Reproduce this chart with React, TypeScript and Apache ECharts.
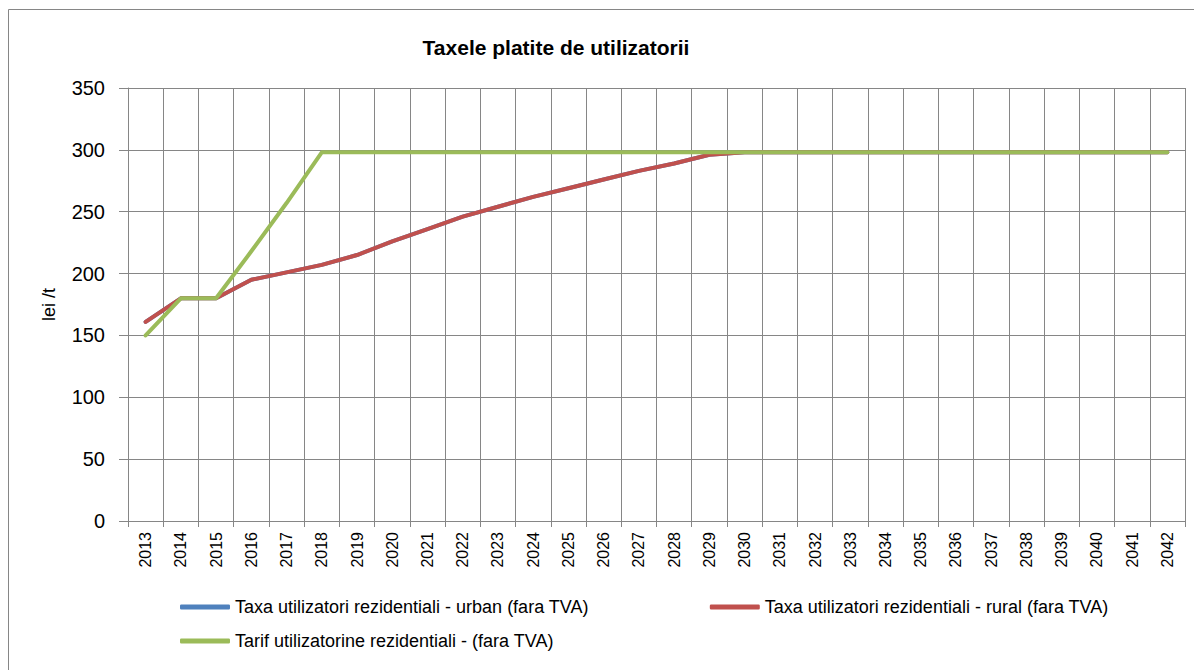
import React, { useEffect, useRef } from "react";
import * as echarts from "echarts";

const years = [
  "2013", "2014", "2015", "2016", "2017", "2018", "2019", "2020", "2021", "2022",
  "2023", "2024", "2025", "2026", "2027", "2028", "2029", "2030", "2031", "2032",
  "2033", "2034", "2035", "2036", "2037", "2038", "2039", "2040", "2041", "2042",
];

const urbanValues = [
  161, 180, 180, 195, 201, 207, 215, 226, 236, 246,
  254, 262, 269, 276, 283, 289, 296, 298, 298, 298,
  298, 298, 298, 298, 298, 298, 298, 298, 298, 298,
];

const ruralValues = [
  161, 180, 180, 195, 201, 207, 215, 226, 236, 246,
  254, 262, 269, 276, 283, 289, 296, 298, 298, 298,
  298, 298, 298, 298, 298, 298, 298, 298, 298, 298,
];

const tarifValues = [
  150, 180, 180, 218, 257, 298, 298, 298, 298, 298,
  298, 298, 298, 298, 298, 298, 298, 298, 298, 298,
  298, 298, 298, 298, 298, 298, 298, 298, 298, 298,
];

const seriesNames = [
  "Taxa utilizatori rezidentiali - urban (fara TVA)",
  "Taxa utilizatori rezidentiali - rural (fara TVA)",
  "Tarif utilizatorine rezidentiali - (fara TVA)",
];

const titleText = "Taxele platite de utilizatorii";
const yAxisName = "lei /t";

const FONT = "'Liberation Sans', Arial, sans-serif";
const GRID_COLOR = "#868686";

export default function App() {
  const ref = useRef<HTMLDivElement>(null);

  useEffect(() => {
    if (!ref.current) return;
    document.body.style.overflow = "hidden";
    const chart = echarts.init(ref.current, undefined, { renderer: "svg" });
    const lineSeries = (name: string, data: number[], color: string) => ({
      name,
      type: "line",
      data,
      symbol: "none",
      showSymbol: false,
      itemStyle: { color },
      lineStyle: { color, width: 4, cap: "round", join: "round" },
    });
    chart.setOption({
      animation: false,
      backgroundColor: "#ffffff",
      graphic: [
        {
          type: "line",
          shape: { x1: 0.5, y1: 1.5, x2: 0.5, y2: 700 },
          style: { stroke: GRID_COLOR, lineWidth: 1 },
          silent: true,
        },
        {
          type: "line",
          shape: { x1: 0.5, y1: 1.5, x2: 1186, y2: 1.5 },
          style: { stroke: GRID_COLOR, lineWidth: 1 },
          silent: true,
        },
        {
          type: "text",
          x: 548,
          y: 39,
          style: {
            text: titleText,
            fontFamily: FONT,
            fontWeight: "bold",
            fontSize: 21,
            fill: "#000000",
            textAlign: "center",
            textVerticalAlign: "middle",
          },
        },
      ],
      grid: { left: 120, right: 9, top: 80, bottom: 149, containLabel: false },
      legend: [
        {
          data: [seriesNames[0], seriesNames[1]],
          left: 172,
          top: 590,
          padding: 0,
          itemGap: 121,
          itemWidth: 50,
          itemHeight: 5,
          icon: "roundRect",
          textStyle: { fontFamily: FONT, fontSize: 18, color: "#000000" },
        },
        {
          data: [seriesNames[2]],
          left: 172,
          top: 624,
          padding: 0,
          itemWidth: 50,
          itemHeight: 5,
          icon: "roundRect",
          textStyle: { fontFamily: FONT, fontSize: 18, color: "#000000" },
        },
      ],
      xAxis: {
        type: "category",
        data: years,
        boundaryGap: true,
        axisLine: { show: true, lineStyle: { color: GRID_COLOR, width: 1 } },
        axisTick: { show: true, length: 6, alignWithLabel: false, lineStyle: { color: GRID_COLOR } },
        axisLabel: {
          rotate: 90,
          margin: 11,
          interval: 0,
          fontFamily: FONT,
          fontSize: 16,
          color: "#000000",
        },
        splitLine: { show: true, interval: 0, lineStyle: { color: GRID_COLOR, width: 1 } },
      },
      yAxis: {
        type: "value",
        min: 0,
        max: 350,
        interval: 50,
        name: yAxisName,
        nameLocation: "middle",
        nameGap: 70,
        nameTextStyle: { fontFamily: FONT, fontSize: 18, color: "#000000" },
        axisLine: { show: true, lineStyle: { color: GRID_COLOR, width: 1 } },
        axisTick: { show: true, length: 9, lineStyle: { color: GRID_COLOR } },
        axisLabel: { margin: 23, fontFamily: FONT, fontSize: 20, color: "#000000" },
        splitLine: { show: true, lineStyle: { color: GRID_COLOR, width: 1 } },
      },
      series: [
        lineSeries(seriesNames[0], urbanValues, "#4F81BD"),
        lineSeries(seriesNames[1], ruralValues, "#C0504D"),
        lineSeries(seriesNames[2], tarifValues, "#9BBB59"),
      ],
    });
    return () => chart.dispose();
  }, []);

  return <div ref={ref} style={{ width: 1186, height: 662 }} />;
}
